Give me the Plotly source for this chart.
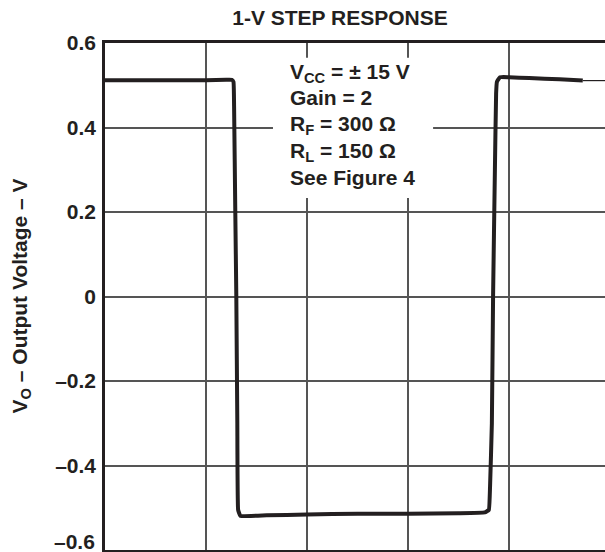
import plotly.graph_objects as go

# Output voltage step response, time in grid divisions
t_div = [0.0, 0.5, 1.0, 1.2, 1.255, 1.272, 1.278, 1.29, 1.30, 1.31, 1.318, 1.34,
         1.6, 2.0, 2.5, 3.0, 3.5, 3.76, 3.8, 3.812, 3.83, 3.842, 3.86, 3.872, 3.88,
         3.91, 4.0, 4.2, 4.5, 4.73]
vo = [0.512, 0.512, 0.512, 0.513, 0.513, 0.508, 0.45, 0.2, 0.0, -0.3, -0.505, -0.519,
      -0.518, -0.516, -0.514, -0.514, -0.513, -0.511, -0.505, -0.45, -0.3, 0.0, 0.3,
      0.48, 0.508, 0.519, 0.519, 0.517, 0.514, 0.511]

# Thin tail continuing past the end of the heavy trace
tail_t = [4.73, 4.95]
tail_vo = [0.511, 0.511]

y_ticks = [0.6, 0.4, 0.2, 0.0, -0.2, -0.4, -0.6]
y_tick_text = ["0.6", "0.4", "0.2", "0", "\u20130.2", "\u20130.4", "\u20130.6"]

conditions = [
    "V<sub>CC</sub> = \u00b1 15 V",
    "Gain = 2",
    "R<sub>F</sub> = 300 \u03a9",
    "R<sub>L</sub> = 150 \u03a9",
    "See Figure 4",
]

FONT = "Liberation Sans, Arial, Helvetica, sans-serif"
INK = "#231f20"
GRID = "#555555"
FS = 21

fig = go.Figure()
fig.add_trace(go.Scatter(x=tail_t, y=tail_vo, mode="lines",
                         line=dict(color=INK, width=1.2), hoverinfo="skip"))
fig.add_trace(go.Scatter(x=t_div, y=vo, mode="lines",
                         line=dict(color=INK, width=4, shape="spline", smoothing=0.3),
                         hoverinfo="skip"))

# White panel behind the test conditions, covering the grid
fig.add_shape(type="rect", xref="x", yref="y", x0=1.663, x1=3.248, y0=0.233, y1=0.565,
              fillcolor="white", line=dict(width=0), layer="between")

line_y = [0.5295, 0.4705, 0.405, 0.342, 0.281]
for txt, yy in zip(conditions, line_y):
    fig.add_annotation(x=1.81, y=yy, xref="x", yref="y", text="<b>" + txt + "</b>",
                       showarrow=False, xanchor="left", yanchor="middle",
                       font=dict(family=FONT, size=FS, color=INK))

fig.add_annotation(x=(20 - 105) / 500, y=0.5, xref="paper", yref="paper",
                   text="<b>V<sub>O</sub> \u2013 Output Voltage \u2013 V</b>",
                   textangle=-90, showarrow=False, xanchor="center", yanchor="middle",
                   font=dict(family=FONT, size=FS, color=INK))

# bottom tick label sits at the page edge, so it is placed above its grid line
fig.add_annotation(x=-8 / 500, y=y_ticks[-1], xref="paper", yref="y",
                   text="<b>" + y_tick_text[-1] + "</b>", showarrow=False,
                   xanchor="right", yanchor="bottom", yshift=-5,
                   font=dict(family=FONT, size=FS, color=INK))

fig.update_layout(
    width=605, height=552,
    margin=dict(l=105, r=0, t=43, b=2),
    paper_bgcolor="white", plot_bgcolor="white",
    showlegend=False,
    title=dict(text="<b>1-V STEP RESPONSE</b>", x=340 / 605, xanchor="center",
               y=1 - 18 / 552, yanchor="middle",
               font=dict(family=FONT, size=FS, color=INK)),
    xaxis=dict(range=[0, 4.95], tickvals=[1, 2, 3, 4], showticklabels=False,
               showgrid=True, gridcolor=GRID, gridwidth=1.5, zeroline=False,
               showline=True, linecolor=INK, linewidth=2.5, mirror=True, ticks=""),
    yaxis=dict(range=[-0.6, 0.6], tickvals=y_ticks[:-1],
               ticktext=["<b>" + s + "</b>" for s in y_tick_text[:-1]],
               showgrid=True, gridcolor=GRID, gridwidth=1.5, zeroline=False,
               showline=True, linecolor=INK, linewidth=2.5, ticks="",
               ticklabelstandoff=2,
               tickfont=dict(family=FONT, size=FS, color=INK)),
)

fig.write_html("out.html")
